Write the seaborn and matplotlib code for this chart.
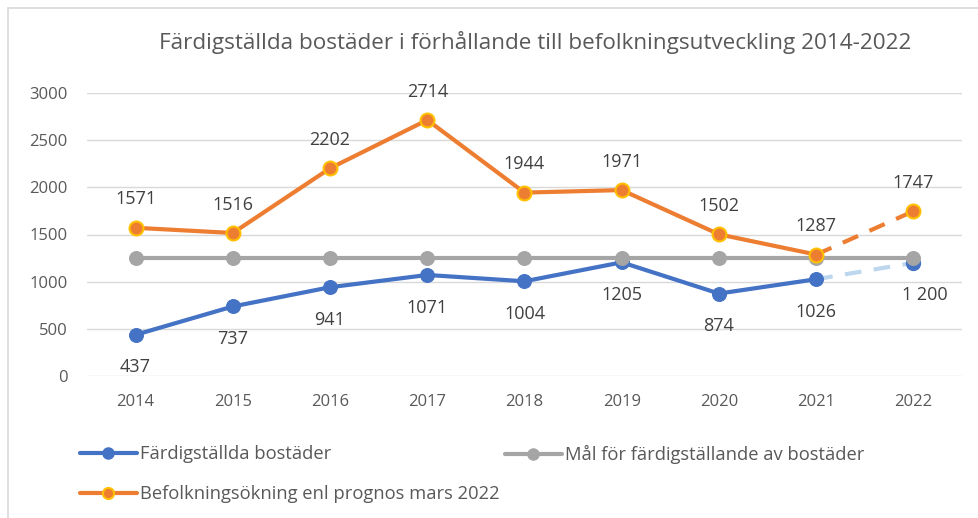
import matplotlib
matplotlib.use('Agg')
import matplotlib.pyplot as plt
import numpy as np
import pandas as pd
import seaborn as sns
from matplotlib.lines import Line2D

years = ['2014', '2015', '2016', '2017', '2018', '2019', '2020', '2021', '2022']
fardigstallda = [437, 737, 941, 1071, 1004, 1205, 874, 1026, 1200]
mal = [1250, 1250, 1250, 1250, 1250, 1250, 1250, 1250, 1250]
befolkning = [1571, 1516, 2202, 2714, 1944, 1971, 1502, 1287, 1747]
blue_labels = ['437', '737', '941', '1071', '1004', '1205', '874', '1026', '1 200']

sns.set_theme(style='white')
plt.rcParams['font.family'] = ['Open Sans', 'DejaVu Sans']
txt = '#595959'

fig = plt.figure(figsize=(9.79, 5.18), dpi=100)
ax = fig.add_axes([87 / 979, 142 / 518, 875 / 979, 283 / 518])

x = np.arange(len(years))
df = pd.DataFrame({'x': x, 'fard': fardigstallda, 'mal': mal, 'bef': befolkning})
solid = df.iloc[:-1]
tail = df.iloc[-2:]

blue, grey, orange = '#4472C4', '#A5A5A5', '#ED7D31'

# gridlines
for v in range(0, 3001, 500):
    ax.axhline(v, color='#D9D9D9', lw=1, zorder=0)

# dashed forecast segments
ax.plot(tail['x'], tail['fard'], color='#BDD7EE', lw=3, dashes=(4, 3), zorder=2)
ax.plot(tail['x'], tail['bef'], color=orange, lw=3, dashes=(4, 3), zorder=2)

sns.lineplot(data=solid, x='x', y='fard', color=blue, lw=3, marker='o', markersize=10,
             markeredgecolor=blue, ax=ax, zorder=3)
ax.plot(tail['x'].iloc[-1:], tail['fard'].iloc[-1:], 'o', color=blue, ms=10, zorder=3)
sns.lineplot(data=df, x='x', y='mal', color=grey, lw=3, marker='o', markersize=10,
             markeredgecolor=grey, ax=ax, zorder=4)
sns.lineplot(data=solid, x='x', y='bef', color=orange, lw=3, marker='o', markersize=10,
             markeredgecolor='#FFC000', markeredgewidth=1.5, ax=ax, zorder=5)
ax.plot(tail['x'].iloc[-1:], tail['bef'].iloc[-1:], 'o', color=orange, ms=10,
        mec='#FFC000', mew=1.5, zorder=5)

# data labels
for i, v in enumerate(befolkning):
    ax.annotate(str(v), (i, v), xytext=(0, 14), textcoords='offset points',
                ha='center', va='bottom', fontsize=13, color='#404040')
for i, (v, lab) in enumerate(zip(fardigstallda, blue_labels)):
    dx = 8 if i == len(years) - 1 else 0
    ax.annotate(lab, (i, v), xytext=(dx, -17), textcoords='offset points',
                ha='center', va='top', fontsize=13, color='#404040')

ax.set_xlim(-0.5, len(years) - 0.5)
ax.set_ylim(0, 3000)
ax.set_yticks(range(0, 3001, 500))
ax.set_xticks(x)
ax.set_xticklabels(years)
ax.tick_params(axis='both', labelsize=12, colors=txt, length=0)
ax.tick_params(axis='y', pad=14)
ax.tick_params(axis='x', pad=13)
ax.set_xlabel('')
ax.set_ylabel('')
for s in ax.spines.values():
    s.set_visible(False)

fig.text(535 / 979, 1 - 42 / 518, 'Färdigställda bostäder i förhållande till befolkningsutveckling 2014-2022',
         ha='center', va='center', fontsize=16.2, color=txt)

h_blue = Line2D([], [], color=blue, lw=3, marker='o', ms=8)
h_orange = Line2D([], [], color=orange, lw=3, marker='o', ms=8, mec='#FFC000', mew=1.5)
h_grey = Line2D([], [], color=grey, lw=3, marker='o', ms=8)

leg_kw = dict(loc='upper left', frameon=False, fontsize=13.2, handlelength=3.1,
              handletextpad=0.15, labelspacing=1.2, borderpad=0, borderaxespad=0)
leg1 = fig.legend([h_blue, h_orange],
                  ['Färdigställda bostäder', 'Befolkningsökning enl prognos mars 2022'],
                  bbox_to_anchor=(80 / 979, 1 - 445 / 518), **leg_kw)
leg2 = fig.legend([h_grey], ['Mål för färdigställande av bostäder'],
                  bbox_to_anchor=(505 / 979, 1 - 445 / 518), **leg_kw)
for lg in (leg1, leg2):
    for t in lg.get_texts():
        t.set_color(txt)

# chart-area border (top and left edges visible in the crop)
fig.add_artist(Line2D([8 / 979, 1], [1 - 7.5 / 518, 1 - 7.5 / 518], color='#D9D9D9', lw=1.2))
fig.add_artist(Line2D([8 / 979, 8 / 979], [0, 1 - 7.5 / 518], color='#D9D9D9', lw=1.2))

fig.savefig('out.png', dpi=100)
